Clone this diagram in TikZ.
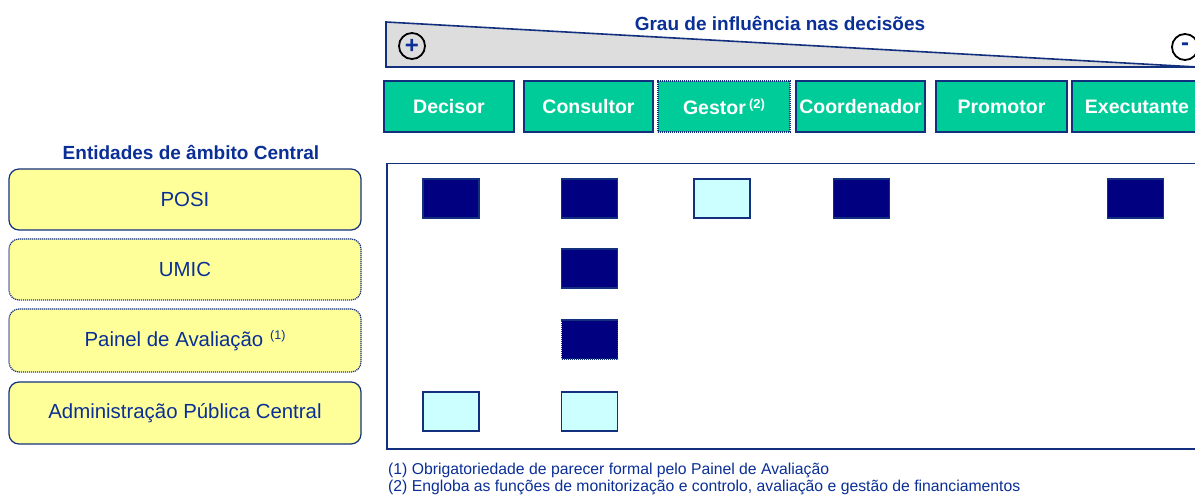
\documentclass[tikz,border=0pt]{standalone}
\usepackage{fontspec}
\setmainfont{Liberation Sans}
\definecolor{txtblue}{HTML}{0A2F96}
\definecolor{lineblue}{HTML}{13307F}
\definecolor{navysq}{HTML}{000080}
\definecolor{cyansq}{HTML}{CCFFFF}
\definecolor{btngreen}{HTML}{00CC99}
\definecolor{boxyellow}{HTML}{FFFF99}
\definecolor{trigray}{HTML}{DDDDDD}
\tikzset{
  btn/.style={draw=lineblue, line width=1.2pt, fill=btngreen, text=white, font=\fontsize{19.5}{21}\selectfont\bfseries, minimum height=51pt, inner sep=0pt},
  entbox/.style={draw=lineblue, line width=1.2pt, fill=boxyellow, rounded corners=10pt, text=txtblue, font=\fontsize{20.4}{22}\selectfont, minimum width=352pt, minimum height=61pt, inner sep=0pt},
  dotb/.style={dash pattern=on 1.2pt off 0.8pt},
  sq/.style={draw=lineblue, line width=1.2pt, minimum width=56pt, minimum height=39pt, inner sep=0pt},
  dark/.style={sq, fill=navysq},
  light/.style={sq, fill=cyansq},
  ttl/.style={text=txtblue, font=\fontsize{19}{21}\selectfont\bfseries, inner sep=0pt},
  foot/.style={text=txtblue, font=\fontsize{15.75}{17}\selectfont, inner sep=0pt, anchor=base west},
  sgn/.style={draw=black, line width=1.8pt, circle, minimum size=26pt, inner sep=0pt, text=txtblue, font=\fontsize{24}{24}\selectfont\bfseries}
}
\begin{document}
\begin{tikzpicture}[x=1pt,y=-1pt]
\useasboundingbox (0,0) rectangle (1195,497);
\clip (0,0) rectangle (1195,497);
\fill[white] (0,0) rectangle (1195,497);
% triangle
\coordinate (tl) at (386,22);
\coordinate (bl) at (386,67);
\coordinate (tr) at (1197,67);
\filldraw[fill=trigray, draw=lineblue, line width=1.6pt, line join=miter] (tl) -- (bl) -- (tr) -- cycle;
\node[ttl] (title) at (780,24) {Grau de influência nas decisões};
\node[sgn] (plus) at (412,46) {+};
\node[sgn] (minus) at (1185,47) {-};
% buttons
\node[btn, minimum width=130pt] (decisor) at (449,106.5) {Decisor};
\node[btn, minimum width=129pt] (consultor) at (588.5,106.5) {Consultor};
\node[btn, minimum width=132pt, dotb] (gestor) at (724,106.5) {Gestor\,\raisebox{0.6ex}{\fontsize{13}{13}\selectfont (2)}};
\node[btn, minimum width=129pt] (coord) at (860.5,106.5) {Coordenador};
\node[btn, minimum width=131pt] (promotor) at (1001.5,106.5) {Promotor};
\node[btn, minimum width=130pt] (exec) at (1137,106.5) {Executante};
% left
\node[ttl] (ent) at (191,152.5) {Entidades de âmbito Central};
\node[entbox] (posi) at (185,199.5) {POSI};
\node[entbox, dotb] (umic) at (185,269.5) {UMIC};
\node[entbox, dotb, minimum height=63pt] (painel) at (185,340.5) {Painel de Avaliação\,\,\raisebox{0.7ex}{\fontsize{12.5}{12.5}\selectfont (1)}};
\node[entbox, minimum height=62pt] (admin) at (185,413) {Administração Pública Central};
% matrix
\node[draw=lineblue, line width=1.5pt, minimum width=816pt, minimum height=285pt, anchor=north west, inner sep=0pt] (matrix) at (386,163) {};
\node[dark] (s11) at (451,198.5) {};
\node[dark] (s12) at (589.5,198.5) {};
\node[light] (s13) at (722,198.5) {};
\node[dark] (s14) at (861.5,198.5) {};
\node[dark] (s16) at (1135.5,198.5) {};
\node[dark] (s22) at (589.5,268.5) {};
\node[dark, dotb] (s32) at (589.5,339.5) {};
\node[light] (s41) at (451,411.5) {};
\node[light] (s42) at (589.5,411.5) {};
% footnotes
\node[foot] (f1) at (388,474) {(1) Obrigatoriedade de parecer formal pelo Painel de Avaliação};
\node[foot] (f2) at (388,491) {(2) Engloba as funções de monitorização e controlo, avaliação e  gestão de financiamentos};
\end{tikzpicture}
\end{document}
